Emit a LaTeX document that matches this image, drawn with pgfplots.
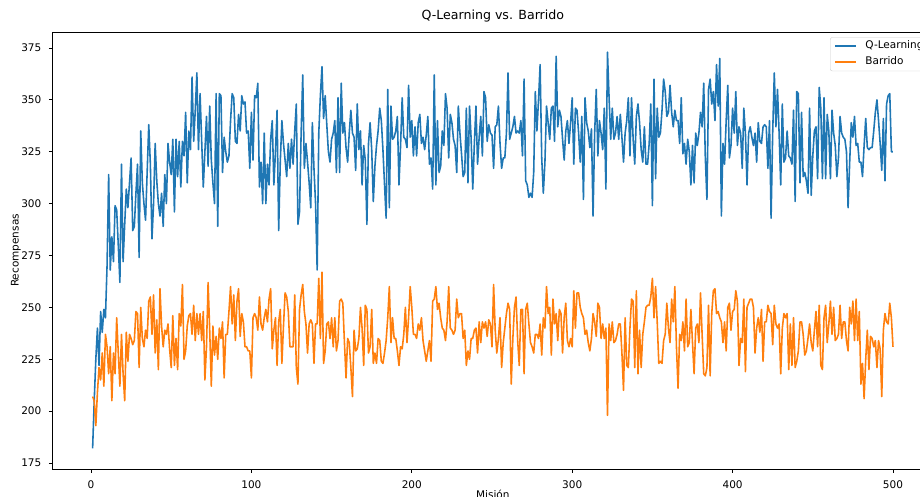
\documentclass[border=0pt]{standalone}
\usepackage{fontspec}
\setmainfont{DejaVu Sans}
\usepackage{pgfplots}
\usepackage{pgfplotstable}
\pgfplotsset{compat=1.18}
\definecolor{tabblue}{HTML}{1F77B4}
\definecolor{taborange}{HTML}{FF7F0E}
\definecolor{legframe}{HTML}{CCCCCC}

\pgfplotstableread[row sep=\\]{
y\\
182\\205\\225\\240\\222\\248\\238\\249\\245\\270\\
314\\268\\284\\272\\299\\297\\280\\262\\319\\272\\
290\\307\\298\\310\\322\\287\\289\\305\\319\\274\\
335\\310\\300\\292\\315\\338\\319\\283\\300\\329\\
311\\300\\294\\305\\289\\314\\300\\329\\320\\314\\
331\\296\\331\\313\\330\\308\\330\\323\\344\\310\\
335\\326\\361\\330\\345\\363\\326\\353\\330\\308\\
325\\342\\318\\347\\321\\310\\300\\353\\289\\353\\
352\\315\\332\\325\\320\\323\\340\\353\\351\\330\\
329\\343\\335\\352\\348\\349\\334\\335\\317\\344\\
321\\352\\351\\358\\308\\320\\300\\334\\300\\319\\
309\\331\\340\\309\\325\\345\\287\\320\\340\\329\\
321\\313\\329\\317\\331\\319\\335\\348\\290\\296\\
334\\362\\317\\329\\320\\310\\298\\339\\317\\300\\
268\\334\\352\\366\\341\\352\\338\\325\\320\\331\\
334\\340\\315\\351\\315\\358\\334\\339\\327\\320\\
334\\345\\334\\332\\316\\348\\326\\335\\309\\328\\
321\\290\\329\\339\\326\\301\\318\\328\\335\\346\\
340\\326\\309\\293\\355\\298\\347\\331\\332\\335\\
342\\309\\328\\351\\332\\331\\327\\357\\332\\340\\
323\\337\\323\\339\\343\\329\\332\\326\\333\\342\\
319\\322\\307\\362\\309\\340\\315\\318\\335\\328\\
353\\346\\322\\343\\339\\331\\328\\315\\347\\334\\
324\\313\\315\\346\\310\\347\\331\\307\\329\\347\\
319\\332\\342\\323\\354\\351\\330\\338\\334\\333\\
317\\337\\338\\347\\329\\317\\322\\322\\334\\363\\
331\\334\\337\\342\\334\\335\\334\\340\\323\\360\\
311\\309\\303\\305\\303\\315\\354\\335\\350\\367\\
322\\305\\320\\347\\339\\331\\346\\347\\330\\371\\
337\\345\\342\\331\\321\\335\\340\\329\\339\\351\\
319\\346\\345\\334\\320\\342\\302\\351\\339\\335\\
327\\336\\294\\334\\355\\323\\340\\334\\326\\346\\
307\\373\\351\\331\\346\\331\\334\\342\\331\\343\\
332\\320\\334\\340\\351\\323\\351\\331\\319\\342\\
348\\339\\326\\320\\337\\319\\319\\329\\348\\299\\
360\\312\\346\\332\\334\\345\\360\\354\\342\\344\\
357\\344\\337\\345\\340\\340\\329\\351\\324\\329\\
319\\331\\325\\309\\328\\310\\334\\328\\334\\344\\
337\\358\\322\\302\\355\\360\\348\\354\\340\\367\\
347\\370\\294\\329\\319\\340\\357\\322\\328\\346\\
334\\354\\328\\337\\334\\317\\346\\334\\309\\334\\
337\\332\\328\\334\\320\\339\\330\\329\\337\\338\\
337\\317\\340\\293\\334\\363\\337\\355\\334\\309\\
348\\320\\322\\335\\323\\322\\319\\345\\301\\354\\
353\\310\\344\\313\\315\\311\\305\\346\\304\\323\\
335\\337\\312\\356\\346\\312\\351\\312\\343\\335\\
312\\345\\334\\328\\313\\322\\342\\334\\332\\331\\
325\\298\\320\\339\\332\\342\\328\\329\\320\\320\\
313\\328\\341\\327\\326\\327\\327\\335\\344\\350\\
340\\329\\316\\341\\311\\348\\352\\353\\325\\325\\
}\qdata

\pgfplotstableread[row sep=\\]{
y\\
207\\205\\193\\209\\221\\215\\228\\212\\237\\231\\
218\\231\\205\\228\\218\\245\\228\\212\\237\\218\\
205\\238\\224\\237\\235\\232\\234\\248\\247\\221\\
250\\235\\231\\239\\235\\253\\255\\237\\256\\228\\
244\\220\\259\\241\\231\\239\\237\\242\\230\\221\\
246\\222\\235\\220\\247\\241\\261\\225\\229\\241\\
246\\247\\237\\251\\234\\247\\237\\247\\234\\248\\
215\\231\\262\\239\\212\\241\\227\\236\\225\\240\\
235\\243\\216\\237\\237\\248\\260\\242\\256\\234\\
253\\259\\236\\247\\243\\231\\231\\229\\229\\216\\
245\\247\\245\\239\\255\\242\\239\\245\\249\\243\\
254\\259\\230\\239\\245\\222\\243\\249\\223\\241\\
257\\255\\248\\231\\231\\231\\256\\221\\213\\249\\
256\\261\\248\\242\\228\\242\\244\\242\\223\\242\\
242\\264\\235\\267\\223\\229\\242\\243\\235\\245\\
231\\245\\229\\234\\253\\254\\252\\233\\216\\235\\
233\\221\\207\\239\\229\\230\\235\\250\\240\\222\\
251\\249\\228\\231\\249\\223\\228\\223\\235\\234\\
224\\223\\228\\234\\245\\260\\233\\245\\235\\235\\
229\\222\\231\\230\\237\\250\\233\\245\\260\\250\\
237\\237\\235\\242\\239\\245\\234\\229\\224\\229\\
234\\224\\253\\254\\260\\249\\252\\245\\240\\239\\
234\\243\\260\\240\\239\\237\\239\\254\\245\\247\\
247\\235\\239\\222\\229\\225\\235\\235\\239\\240\\
228\\243\\233\\243\\240\\243\\236\\244\\242\\231\\
261\\239\\228\\235\\245\\221\\233\\240\\247\\252\\
249\\213\\235\\250\\255\\234\\222\\249\\249\\218\\
249\\252\\242\\233\\231\\228\\237\\237\\235\\242\\
227\\245\\240\\260\\247\\250\\227\\254\\242\\247\\
234\\249\\247\\228\\245\\252\\234\\231\\235\\231\\
258\\240\\257\\257\\250\\247\\245\\237\\239\\233\\
229\\235\\247\\243\\236\\252\\250\\235\\242\\235\\
240\\198\\242\\234\\243\\233\\234\\237\\242\\242\\
228\\210\\245\\222\\221\\240\\254\\253\\221\\258\\
218\\239\\221\\237\\243\\250\\251\\251\\255\\264\\
245\\260\\243\\223\\224\\223\\234\\237\\252\\240\\
233\\254\\243\\260\\231\\211\\237\\234\\243\\229\\
254\\231\\233\\249\\233\\218\\240\\242\\233\\257\\
237\\218\\217\\221\\251\\217\\247\\258\\259\\247\\
248\\245\\243\\233\\243\\229\\250\\252\\239\\248\\
249\\258\\253\\222\\235\\233\\254\\219\\250\\252\\
254\\254\\250\\228\\240\\245\\238\\249\\224\\243\\
243\\251\\248\\247\\232\\251\\242\\240\\242\\218\\
240\\247\\245\\247\\220\\242\\222\\245\\221\\224\\
229\\243\\243\\237\\227\\229\\235\\242\\233\\229\\
239\\248\\231\\251\\222\\220\\245\\251\\233\\242\\
253\\237\\250\\234\\235\\237\\251\\235\\243\\243\\
234\\229\\250\\242\\253\\234\\254\\234\\248\\213\\
223\\206\\225\\239\\220\\236\\235\\231\\234\\221\\
234\\230\\207\\239\\247\\243\\242\\252\\245\\231\\
}\bdata

\begin{document}
\begin{tikzpicture}
\begin{axis}[
  scale only axis,
  width=880.4pt, height=437pt,
  xmin=-23.95, xmax=524.95,
  ymin=172.1, ymax=382.7,
  xtick={0,100,200,300,400,500},
  ytick={175,200,225,250,275,300,325,350,375},
  xtick pos=bottom, ytick pos=left,
  tick align=outside,
  major tick length=3.7pt,
  tick style={black, line width=0.84pt},
  axis line style={line width=0.84pt},
  /pgf/number format/assume math mode=true,
  tick label style={font=\fontsize{10.5}{12.6}\selectfont, inner sep=0pt},
  xticklabel style={anchor=north, yshift=-7.4pt},
  yticklabel style={anchor=east, xshift=-7.4pt},
  title={Q-Learning vs. Barrido},
  title style={font=\fontsize{12.6}{15}\selectfont, at={(axis description cs:0.5,1)}, anchor=base, yshift=6.3pt, inner sep=0pt},
  xlabel={Misión},
  ylabel={Recompensas},
  label style={font=\fontsize{10.5}{12.6}\selectfont},
  xlabel style={at={(axis description cs:0.5,-0.0686)}, anchor=base, inner sep=0pt},
  ylabel style={at={(axis description cs:-0.04157,0.5)}, anchor=center, inner sep=0pt},
  legend cell align=left,
  legend image code/.code={\draw[#1] (0pt,0pt) -- (21pt,0pt);},
  legend style={
    at={(axis description cs:0.9941,0.9879)}, anchor=north east,
    draw=legframe, rounded corners=2pt, fill=white, fill opacity=0.8, text opacity=1,
    font=\fontsize{10.5}{12.6}\selectfont,
    inner xsep=4.2pt, inner ysep=3.5pt,
    row sep=5.5pt, column sep=8.4pt,
    nodes={inner sep=0pt, text height=8pt, text depth=2.5pt},
  },
]
\addplot[tabblue, line width=1.58pt, line join=round] table[x expr=\coordindex+1, y=y] {\qdata};
\addlegendentry{Q-Learning}
\addplot[taborange, line width=1.58pt, line join=round] table[x expr=\coordindex+1, y=y] {\bdata};
\addlegendentry{Barrido}
\end{axis}
\pgfresetboundingbox
\useasboundingbox (-52.6pt,-27pt) rectangle (867.4pt,469pt);
\end{tikzpicture}
\end{document}
